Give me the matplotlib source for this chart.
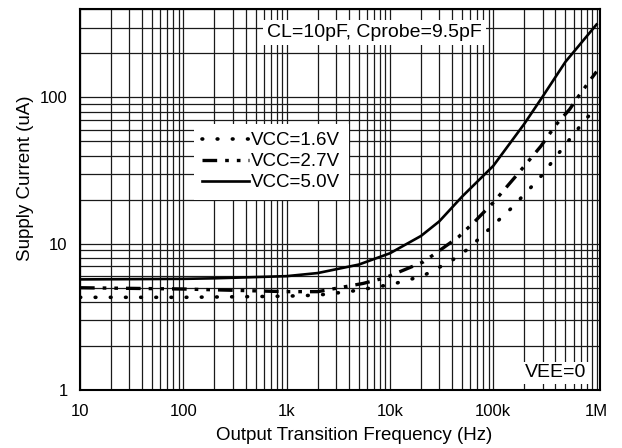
import matplotlib
matplotlib.use("Agg")
import matplotlib.pyplot as plt
from matplotlib.ticker import FixedLocator, FixedFormatter, LogLocator, NullFormatter

plt.rcParams['font.family'] = ['Liberation Sans', 'DejaVu Sans']

# Data
f_50 = [10, 100, 200, 1e3, 2e3, 5e3, 1e4, 2e4, 3e4, 5e4, 1e5, 2e5, 3e5, 5e5, 1e6]
i_50 = [5.7, 5.75, 5.8, 6.0, 6.3, 7.2, 8.6, 11.3, 14.2, 21, 34, 66, 101, 175, 315]

f_27 = [10, 100, 1e3, 2e3, 3.5e3, 5.5e3, 9e3, 2.1e4, 2.9e4, 4.6e4, 6.7e4, 1e5, 1.75e5, 2.9e5, 4.05e5, 5.5e5, 6.5e5, 8.8e5, 1e6]
i_27 = [5.0, 4.9, 4.7, 4.7, 5.05, 5.35, 5.85, 7.5, 8.8, 11.1, 14.3, 19.1, 30.3, 46.5, 65, 83, 99, 133, 150]

f_16 = [10, 100, 500, 1e3, 2e3, 3e3, 4e3, 5.5e3, 7.7e3, 1.07e4, 1.5e4, 2.1e4, 2.9e4, 4.1e4, 5.7e4, 1.5e5, 2.8e5, 4.7e5, 7.85e5, 1e6]
i_16 = [4.3, 4.3, 4.35, 4.38, 4.45, 4.6, 4.7, 4.88, 5.08, 5.3, 5.65, 6.04, 6.8, 7.8, 9.2, 17.5, 28, 45, 71, 85]

labels = ['VCC=1.6V', 'VCC=2.7V', 'VCC=5.0V']
x_ticks = [10, 100, 1e3, 1e4, 1e5, 1e6]
x_ticklabels = ['10', '100', '1k', '10k', '100k', '1M']
y_ticks = [1, 10, 100]
y_ticklabels = ['1', '10', '100']

fig = plt.figure(figsize=(6.22, 4.48), dpi=100)
ax = fig.add_axes([80/622, 1-390/448, 520/622, (390-9.3)/448])

ax.plot(f_16, i_16, color='black', lw=2.6, linestyle=(0, (0.2, 4.0)),
        dash_capstyle='round', label=labels[0], zorder=3)
ax.plot(f_27, i_27, color='black', lw=2.4, linestyle=(0, (4.4, 2.4, 1.1, 2.4, 1.1, 2.4)),
        dash_capstyle='butt', label=labels[1], zorder=3)
ax.plot(f_50, i_50, color='black', lw=1.9, linestyle='-', label=labels[2], zorder=3)

ax.set_xscale('log')
ax.set_yscale('log')
ax.set_xlim(10, 1.08e6)
ax.set_ylim(1, 400)

ax.xaxis.set_major_locator(FixedLocator(x_ticks))
ax.xaxis.set_major_formatter(FixedFormatter(x_ticklabels))
ax.yaxis.set_major_locator(FixedLocator(y_ticks))
ax.yaxis.set_major_formatter(FixedFormatter(y_ticklabels))
ax.xaxis.set_minor_locator(LogLocator(base=10, subs=range(2, 10)))
ax.yaxis.set_minor_locator(LogLocator(base=10, subs=range(2, 10)))
ax.xaxis.set_minor_formatter(NullFormatter())
ax.yaxis.set_minor_formatter(NullFormatter())

ax.grid(True, which='both', color='#1a1a1a', lw=0.9)
ax.set_axisbelow(True)
ax.tick_params(which='both', length=0)
ax.tick_params(axis='x', labelsize=12, pad=10)
ax.tick_params(axis='y', labelsize=12, pad=9)
for s in ax.spines.values():
    s.set_linewidth(1.5)

ax.set_xlabel('Output Transition Frequency (Hz)', fontsize=13.5)
ax.set_ylabel('Supply Current (uA)', fontsize=13.5)
ax.xaxis.set_label_coords(0.527, -0.098)
ax.yaxis.set_label_coords(-0.0885, 0.556)

leg = ax.legend(loc='upper left', bbox_to_anchor=(0.219, 0.699), borderaxespad=0,
                frameon=True, fancybox=False, framealpha=1, edgecolor='none',
                facecolor='white', fontsize=13.5, handlelength=2.5, labelspacing=0.2,
                handletextpad=0.1, borderpad=0.45)
leg.set_zorder(5)

ax.text(0.567, 0.940, 'CL=10pF, Cprobe=9.5pF', transform=ax.transAxes, fontsize=14,
        ha='center', va='center', zorder=6,
        bbox=dict(facecolor='white', edgecolor='none', pad=3))
ax.text(0.915, 0.045, 'VEE=0', transform=ax.transAxes, fontsize=14,
        ha='center', va='center', zorder=6,
        bbox=dict(facecolor='white', edgecolor='none', pad=2))

fig.savefig('out.png', dpi=100)
